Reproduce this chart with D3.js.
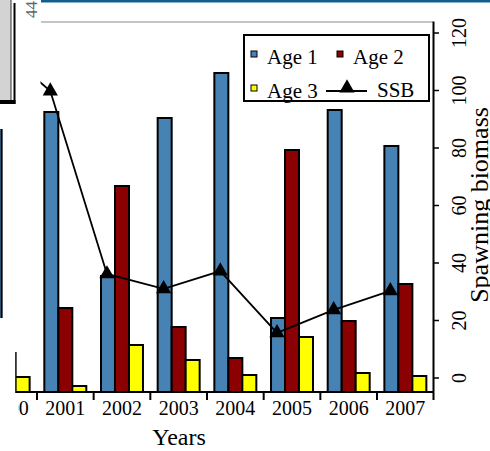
<!DOCTYPE html>
<html>
<head>
<meta charset="utf-8">
<script src="https://cdn.jsdelivr.net/npm/d3@7/dist/d3.min.js"></script>
<style>
  html, body { margin: 0; padding: 0; background: #fff; }
  svg { display: block; }
  text { font-family: "Liberation Serif", "Times New Roman", serif; fill: #000; }
</style>
</head>
<body>
<svg id="chart" width="490" height="451"></svg>
<script>
// Catch composition by age (bars, left scale) and spawning biomass (line, right scale)
const years = ["2000", "2001", "2002", "2003", "2004", "2005", "2006", "2007"];
const age1 = [112, 112, 46.4, 109.6, 127.6, 29.6, 112.8, 98.4];
const age2 = [15.6, 33.6, 82.4, 26, 13.6, 96.8, 28.4, 43.2];
const age3 = [6, 2.4, 18.8, 12.8, 6.8, 22, 7.6, 6.4];
const ssb = [117, 99.8, 36.2, 31, 37.2, 15.7, 23.7, 30.3];
const ssbTicks = [0, 20, 40, 60, 80, 100, 120];
const ageKeys = ["Age 1", "Age 2", "Age 3"];
const ageColors = ["#4682b4", "#8b0000", "#ffff00"];

const svg = d3.select("#chart");
svg.append("rect").attr("width", 490).attr("height", 451).attr("fill", "#fff");

const x = d3.scaleBand().domain(years).range([-19.7, 433.7]).padding(0);
const xAge = d3.scaleBand().domain(ageKeys).range([0, x.bandwidth()])
  .paddingInner(0).paddingOuter(0.525);
const yBar = d3.scaleLinear().domain([0, 150]).range([392, 17]);
const ySSB = d3.scaleLinear().domain([0, 120]).range([378, 33]);

const rows = years.map((yr, i) => ({ year: yr, vals: [age1[i], age2[i], age3[i]], ssb: ssb[i] }));

// grouped bars
const g = svg.append("g");
const groups = g.selectAll("g.yr").data(rows).join("g")
  .attr("transform", d => `translate(${x(d.year)},0)`);
groups.selectAll("rect").data(d => d.vals.map((v, k) => ({ key: ageKeys[k], v, c: ageColors[k] })))
  .join("rect")
  .attr("x", d => xAge(d.key))
  .attr("width", xAge.bandwidth())
  .attr("y", d => yBar(d.v))
  .attr("height", d => yBar(0) - yBar(d.v))
  .attr("fill", d => d.c)
  .attr("stroke", "#000")
  .attr("stroke-width", 2);

// x axis: baseline with ticks between year groups
const xAxis = d3.axisBottom(x).tickSize(0).tickPadding(9);
const ax = svg.append("g").attr("transform", "translate(0,392)").call(xAxis);
ax.select(".domain").remove();
ax.selectAll("text").attr("font-size", 20).attr("font-family", "Liberation Serif, serif").attr("fill", "#000");
svg.append("line").attr("x1", -30).attr("x2", 433.7).attr("y1", 392).attr("y2", 392)
  .attr("stroke", "#000").attr("stroke-width", 2);
svg.selectAll("line.xt").data(years).join("line").attr("class", "xt")
  .attr("x1", d => x(d)).attr("x2", d => x(d)).attr("y1", 392).attr("y2", 400)
  .attr("stroke", "#000").attr("stroke-width", 2);

// SSB line with triangle markers
const sx = d => x(d.year) + x.bandwidth() * 0.235;
svg.append("path").datum(rows)
  .attr("d", d3.line().x(sx).y(d => ySSB(d.ssb)))
  .attr("fill", "none").attr("stroke", "#000").attr("stroke-width", 1.8);
svg.selectAll("path.tri").data(rows).join("path").attr("class", "tri")
  .attr("d", d3.symbol(d3.symbolTriangle, 100))
  .attr("transform", d => `translate(${sx(d)},${ySSB(d.ssb)})`)
  .attr("fill", "#000");

// panel edges of the neighbouring figure
svg.append("rect").attr("x", 0).attr("y", 0).attr("width", 40.5).attr("height", 129).attr("fill", "#fff");
svg.append("rect").attr("x", 0).attr("y", 318).attr("width", 15.2).attr("height", 78).attr("fill", "#fff");
svg.append("rect").attr("x", 0).attr("y", 399).attr("width", 18).attr("height", 30).attr("fill", "#fff");
svg.append("rect").attr("x", 0).attr("y", 100).attr("width", 15.5).attr("height", 4).attr("fill", "#000");
svg.append("rect").attr("x", 13.5).attr("y", 3).attr("width", 2).attr("height", 101).attr("fill", "#000");
svg.append("rect").attr("x", 0).attr("y", 0).attr("width", 11).attr("height", 100).attr("fill", "#d3d3d3");
svg.append("line").attr("x1", 11).attr("x2", 11).attr("y1", 0).attr("y2", 100).attr("stroke", "#333").attr("stroke-width", 1);
svg.append("text").attr("transform", "translate(37,18) rotate(-90)")
  .attr("font-family", "DejaVu Sans, sans-serif").attr("font-size", 17)
  .style("fill", "#666").text("44");
svg.append("rect").attr("x", 41).attr("y", 0).attr("width", 449).attr("height", 2.5).attr("fill", "#125f8e");
svg.append("line").attr("x1", 41).attr("x2", 433).attr("y1", 22).attr("y2", 22)
  .attr("stroke", "#8a8a8a").attr("stroke-width", 1.2);

// right axis: spawning biomass
svg.append("line").attr("x1", 433.5).attr("x2", 433.5).attr("y1", 21.5).attr("y2", 400)
  .attr("stroke", "#000").attr("stroke-width", 2);
svg.selectAll("line.rt").data(ssbTicks).join("line").attr("class", "rt")
  .attr("x1", 433).attr("x2", 439).attr("y1", d => ySSB(d)).attr("y2", d => ySSB(d))
  .attr("stroke", "#000").attr("stroke-width", 1.5);
svg.selectAll("text.rl").data(ssbTicks).join("text").attr("class", "rl")
  .attr("transform", d => `translate(466,${ySSB(d)}) rotate(-90)`)
  .attr("text-anchor", "middle").attr("font-size", 20).text(d => d);
svg.append("text").attr("transform", "translate(488,205) rotate(-90)")
  .attr("text-anchor", "middle").attr("font-size", 26).text("Spawning biomass");

svg.append("text").attr("x", 179).attr("y", 445).attr("text-anchor", "middle")
  .attr("font-size", 24).text("Years");

// legend
const lg = svg.append("g");
lg.append("rect").attr("x", 244).attr("y", 35).attr("width", 185).attr("height", 66)
  .attr("fill", "#fff").attr("stroke", "#000").attr("stroke-width", 2);
const legItems = [
  { label: "Age 1", c: ageColors[0], x: 251, y: 51 },
  { label: "Age 2", c: ageColors[1], x: 337, y: 51 },
  { label: "Age 3", c: ageColors[2], x: 251, y: 85 }
];
legItems.forEach(it => {
  lg.append("rect").attr("x", it.x).attr("y", it.y).attr("width", 6).attr("height", 6)
    .attr("fill", it.c).attr("stroke", "#000").attr("stroke-width", 1);
  lg.append("text").attr("x", it.x + 16).attr("y", it.y + 13).attr("font-size", 21).text(it.label);
});
lg.append("line").attr("x1", 326).attr("x2", 367).attr("y1", 91).attr("y2", 91)
  .attr("stroke", "#000").attr("stroke-width", 1.8);
lg.append("path").attr("d", d3.symbol(d3.symbolTriangle, 100)())
  .attr("transform", "translate(347,88)").attr("fill", "#000");
lg.append("text").attr("x", 377).attr("y", 97).attr("font-size", 21).text("SSB");
</script>
</body>
</html>
